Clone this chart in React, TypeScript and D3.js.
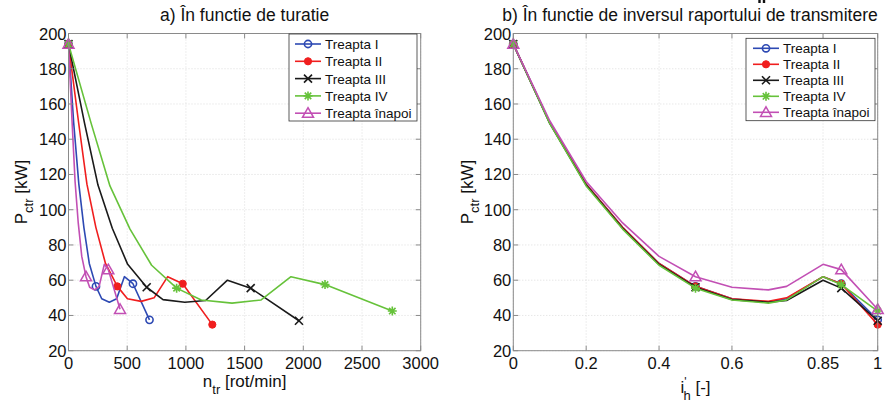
import React from "react";
import * as d3 from "d3";

// ---------- DATA ----------
const seriesNames = ["Treapta I", "Treapta II", "Treapta III", "Treapta IV", "Treapta înapoi"];

// inverse transmission ratio (right plot x)
const iH = [0, 0.1, 0.2, 0.3, 0.4, 0.5, 0.6, 0.7, 0.75, 0.85, 0.9, 1.0];

// speed n_tr [rot/min] (left plot x) per gear
const nTrI = [0, 44, 88, 131, 177, 234, 283, 348, 410, 476, 549, 690];
const nTrII = [0, 86, 157, 233, 315, 416, 502, 619, 729, 845, 973, 1225];
const nTrIII = [0, 137, 251, 373, 504, 666, 805, 991, 1168, 1354, 1552, 1963];
const nTrIV = [0, 193, 353, 524, 708, 921, 1131, 1393, 1641, 1895, 2185, 2758];
const nTrR = [0, 30, 56, 83, 113, 149, 180, 222, 261, 305, 339, 439];

// power P_ctr [kW]
const pI = [194, 149.5, 114.5, 90, 69.5, 56.5, 49.5, 47.5, 49.5, 62, 58, 37.5];
const pII = [194, 149.5, 114.5, 90, 69.5, 56.5, 49.5, 48, 50, 62, 58, 34.8];
const pIII = [194, 149, 114, 89.5, 69, 56, 49, 47.5, 48.5, 60, 55.5, 37];
const pIV = [194, 149, 113.5, 89, 68.5, 55.5, 48.8, 47, 48.8, 62, 57.5, 42.5];
const pR = [194, 150.5, 116, 92.5, 73.5, 62, 56, 54.5, 56.5, 69, 66, 43.5];

const markerIndex = [0, 5, 10, 11];

const yTicks = [20, 40, 60, 80, 100, 120, 140, 160, 180, 200];
const xTicksLeft = [0, 500, 1000, 1500, 2000, 2500, 3000];
const xTicksRight = [0, 0.2, 0.4, 0.6, 0.85, 1];

const nSeries = [nTrI, nTrII, nTrIII, nTrIV, nTrR];
const pSeries = [pI, pII, pIII, pIV, pR];

// ---------- STYLE ----------
const colors = ["#2d49b3", "#f01e1e", "#1a1a1a", "#66c23a", "#c24fb4"];
const markerTypes = ["circle", "dot", "x", "star", "triangle"];
const FONT = "'Liberation Sans', Arial, sans-serif";
const AXIS_COLOR = "#8a8a8a";

function Marker({ type, x, y, color }: { type: string; x: number; y: number; color: string }) {
  switch (type) {
    case "circle":
      return <circle cx={x} cy={y} r={3.6} fill="none" stroke={color} strokeWidth={1.6} />;
    case "dot":
      return <circle cx={x} cy={y} r={3.6} fill={color} stroke={color} strokeWidth={1} />;
    case "x": {
      const s = 4;
      return (
        <path d={`M${x - s},${y - s}L${x + s},${y + s}M${x - s},${y + s}L${x + s},${y - s}`} stroke={color} strokeWidth={1.6} />
      );
    }
    case "star": {
      const s = 4.5;
      const d = s * 0.72;
      return (
        <path
          d={`M${x - s},${y}L${x + s},${y}M${x},${y - s}L${x},${y + s}M${x - d},${y - d}L${x + d},${y + d}M${x - d},${y + d}L${x + d},${y - d}`}
          stroke={color}
          strokeWidth={1.6}
        />
      );
    }
    case "triangle": {
      const s = 5.5;
      return (
        <path
          d={`M${x},${y - s}L${x + s},${y + s * 0.75}L${x - s},${y + s * 0.75}Z`}
          fill="none"
          stroke={color}
          strokeWidth={1.5}
        />
      );
    }
  }
  return null;
}

interface PanelProps {
  x0: number;
  x1: number;
  top: number;
  bottom: number;
  xDomain: [number, number];
  xTicks: number[];
  xsOf: (k: number) => number[];
  legendBox: { x: number; y: number; w: number; h: number; rowY: number[]; lineX0: number; lineX1: number; textX: number };
}

function Panel({ x0, x1, top, bottom, xDomain, xTicks, xsOf, legendBox }: PanelProps) {
  const xs = d3.scaleLinear().domain(xDomain).range([x0, x1]);
  const ys = d3.scaleLinear().domain([20, 200]).range([bottom, top]);
  const tl = 5;
  return (
    <g>
      <rect x={x0} y={top} width={x1 - x0} height={bottom - top} fill="#fff" />
      {/* grid */}
      {xTicks.map((t) => (
        <line key={"gx" + t} x1={xs(t)} x2={xs(t)} y1={top} y2={bottom} stroke="#d4d4d4" strokeWidth={0.8} strokeDasharray="1,2" />
      ))}
      {yTicks.map((t) => (
        <line key={"gy" + t} x1={x0} x2={x1} y1={ys(t)} y2={ys(t)} stroke="#d4d4d4" strokeWidth={0.8} strokeDasharray="1,2" />
      ))}
      {/* curves */}
      {pSeries.map((ps, k) => {
        const xv = xsOf(k);
        const pts: [number, number][] = ps.map((p, i) => [xs(xv[i]), ys(p)]);
        const line = d3.line()(pts) || "";
        return (
          <g key={"s" + k}>
            <path d={line} fill="none" stroke={colors[k]} strokeWidth={1.6} strokeLinejoin="round" />
            {markerIndex.map((i) => (
              <Marker key={i} type={markerTypes[k]} x={pts[i][0]} y={pts[i][1]} color={colors[k]} />
            ))}
          </g>
        );
      })}
      {/* box */}
      <rect x={x0} y={top} width={x1 - x0} height={bottom - top} fill="none" stroke={AXIS_COLOR} strokeWidth={1} />
      {/* ticks */}
      {xTicks.map((t) => (
        <g key={"tx" + t}>
          <line x1={xs(t)} x2={xs(t)} y1={bottom} y2={bottom - tl} stroke={AXIS_COLOR} />
          <line x1={xs(t)} x2={xs(t)} y1={top} y2={top + tl} stroke={AXIS_COLOR} />
          <text x={xs(t)} y={369} textAnchor="middle" fontSize={16.5} fontFamily={FONT} fill="#111">
            {String(t)}
          </text>
        </g>
      ))}
      {yTicks.map((t) => (
        <g key={"ty" + t}>
          <line x1={x0} x2={x0 + tl} y1={ys(t)} y2={ys(t)} stroke={AXIS_COLOR} />
          <line x1={x1} x2={x1 - tl} y1={ys(t)} y2={ys(t)} stroke={AXIS_COLOR} />
          <text x={x0 - 2} y={ys(t) + 6} textAnchor="end" fontSize={16.5} fontFamily={FONT} fill="#111">
            {String(t)}
          </text>
        </g>
      ))}
      {/* legend */}
      <rect x={legendBox.x} y={legendBox.y} width={legendBox.w} height={legendBox.h} fill="#fff" stroke="#333" strokeWidth={0.8} />
      {seriesNames.map((name, k) => {
        const ry = legendBox.rowY[k];
        return (
          <g key={"lg" + k}>
            <line x1={legendBox.lineX0} x2={legendBox.lineX1} y1={ry} y2={ry} stroke={colors[k]} strokeWidth={1.6} />
            <Marker type={markerTypes[k]} x={(legendBox.lineX0 + legendBox.lineX1) / 2} y={ry} color={colors[k]} />
            <text x={legendBox.textX} y={ry + 5} fontSize={13.5} fontFamily={FONT} fill="#111">
              {name}
            </text>
          </g>
        );
      })}
    </g>
  );
}

export default function App() {
  const top = 33.5;
  const bottom = 350.7;
  return (
    <svg width={885} height={406} style={{ position: "absolute", left: 0, top: 0, background: "#fff" }}>
      <rect x={0} y={0} width={885} height={406} fill="#fff" />
      <Panel
        x0={68.5}
        x1={420.7}
        top={top}
        bottom={bottom}
        xDomain={[0, 3000]}
        xTicks={xTicksLeft}
        xsOf={(k) => nSeries[k]}
        legendBox={{ x: 289, y: 34, w: 128, h: 87, rowY: [44, 61.3, 78.6, 95.9, 113.2], lineX0: 295, lineX1: 321, textX: 325 }}
      />
      <Panel
        x0={513.3}
        x1={877.7}
        top={top}
        bottom={bottom}
        xDomain={[0, 1]}
        xTicks={xTicksRight}
        xsOf={() => iH}
        legendBox={{ x: 746, y: 38.3, w: 129, h: 82.4, rowY: [48.3, 64.3, 80.3, 96.3, 112.3], lineX0: 753, lineX1: 779, textX: 783 }}
      />
      {/* titles */}
      <text x={244.6} y={21} textAnchor="middle" fontSize={17.5} fontFamily={FONT} fill="#111">
        a) În functie de turatie
      </text>
      <text x={690} y={21} textAnchor="middle" fontSize={17.5} fontFamily={FONT} fill="#111">
        b) În functie de inversul raportului de transmitere
      </text>
      {/* small cropped marks above title b */}
      <rect x={758.3} y={0} width={2.4} height={3} fill="#111" />
      <rect x={762.8} y={0} width={2.4} height={3} fill="#111" />
      {/* x labels */}
      <text x={244.6} y={387} textAnchor="middle" fontSize={17} fontFamily={FONT} fill="#111">
        <tspan>n</tspan>
        <tspan dy={7} fontSize={13}>tr</tspan>
        <tspan dy={-7}> [rot/min]</tspan>
      </text>
      <text x={695.5} y={393} textAnchor="middle" fontSize={17} fontFamily={FONT} fill="#111">
        <tspan>i</tspan>
        <tspan dy={-7} fontSize={12}>'</tspan>
        <tspan dy={14} dx={-3} fontSize={13}>h</tspan>
        <tspan dy={-7}> [-]</tspan>
      </text>
      {/* y labels */}
      <text transform="translate(27,192) rotate(-90)" textAnchor="middle" fontSize={17} fontFamily={FONT} fill="#111">
        <tspan>P</tspan>
        <tspan dy={6} fontSize={13}>ctr</tspan>
        <tspan dy={-6}> [kW]</tspan>
      </text>
      <text transform="translate(473,192) rotate(-90)" textAnchor="middle" fontSize={17} fontFamily={FONT} fill="#111">
        <tspan>P</tspan>
        <tspan dy={6} fontSize={13}>ctr</tspan>
        <tspan dy={-6}> [kW]</tspan>
      </text>
    </svg>
  );
}
